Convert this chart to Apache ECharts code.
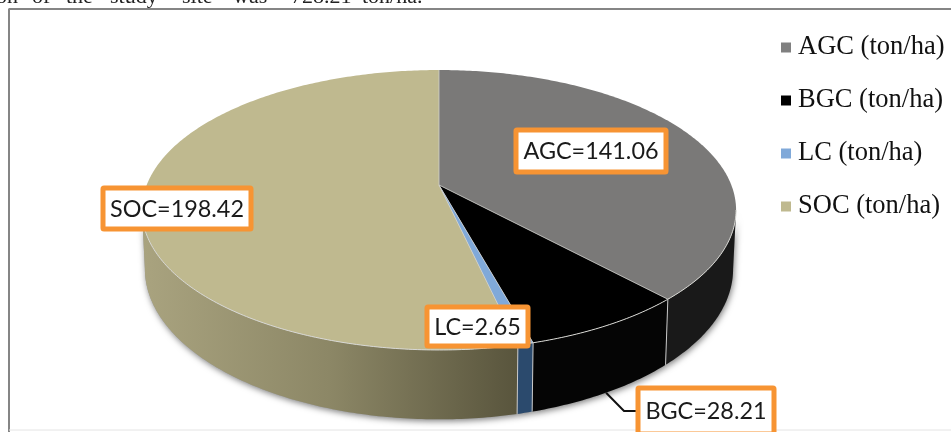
<!DOCTYPE html>
<html>
<head>
<meta charset="utf-8">
<style>html,body{margin:0;padding:0;background:#fff}#chart{width:951px;height:432px}</style>
<script src="https://cdn.jsdelivr.net/npm/echarts@6/dist/echarts.min.js"></script>
</head>
<body>
<div id="chart"></div>
<script>
// Carbon pools at the study site (ton/ha)
const poolNames = ['AGC', 'BGC', 'LC', 'SOC'];
const poolValues = [141.06, 28.21, 2.65, 198.42];
const legendUnit = ' (ton/ha)';
const topColors = ['#7a7978', '#000000', '#80a9d9', '#bfb98f'];
const legendColors = ['#808080', '#000000', '#80a9d9', '#bfb98f'];

// Callout boxes: left, top, width, height
const calloutBoxes = [[516, 130, 150, 42], [638, 388, 136, 46], [427, 307, 101, 39], [103, 188, 148, 41]];

// Running-head words above the frame
const headWords = ['on', 'of', 'the', 'study', 'site', 'was', '728.21', 'ton/ha.'];
const headX = [-4, 32, 66, 110, 182, 233, 291, 362];

// Tilted-disc projection of the pie
const disc = { cx: 439, cy: 185, a: 292.3, b: 135.5, k: 0.1786, depth: 57 };
const total = poolValues.reduce((s, v) => s + v, 0);
// The outer wall is visible between the two silhouette tangents of the disc
const FRONT_START = Math.acos(-disc.k);
const FRONT_END = Math.PI * 2 - FRONT_START;

function project(angle, lowered) {
  const u = Math.sin(angle), v = -Math.cos(angle);
  const w = 1 - disc.k * v;
  const shrink = lowered ? 0.99 : 1;
  return [
    disc.cx + disc.a * u / w * shrink,
    disc.cy + (disc.b * v + (lowered ? disc.depth : 0)) / w
  ];
}

function arc(a0, a1, lowered) {
  const pts = [];
  const n = Math.max(2, Math.ceil((a1 - a0) * 80));
  for (let i = 0; i <= n; i++) pts.push(project(a0 + (a1 - a0) * i / n, lowered));
  return pts;
}

const wallFills = [
  '#191919',
  '#050505',
  '#2b4a6d',
  {
    type: 'linear', x: 143, y: 0, x2: 516, y2: 0, global: true,
    colorStops: [
      { offset: 0, color: '#a9a37f' },
      { offset: 0.5, color: '#8c8766' },
      { offset: 1, color: '#59553d' }
    ]
  }
];

function renderSlice(index, params, api) {
  const before = poolValues.slice(0, index).reduce((s, v) => s + v, 0);
  const a0 = before / total * Math.PI * 2;
  const a1 = a0 + api.value(0) / total * Math.PI * 2;
  const f0 = Math.max(a0, FRONT_START);
  const f1 = Math.min(a1, FRONT_END);
  const rim = arc(f0, f1, false);
  const foot = arc(f0, f1, true);
  const wall = rim.concat(foot.slice().reverse());
  const [bx, by, bw, bh] = calloutBoxes[index];
  const apex = [disc.cx, disc.cy];
  const children = [
    {
      type: 'polygon', z2: 1,
      shape: { points: wall },
      style: { fill: '#9a9a9a', shadowBlur: 6, shadowColor: 'rgba(0,0,0,0.5)', shadowOffsetX: 1, shadowOffsetY: 2 }
    },
    { type: 'polygon', z2: 2, shape: { points: wall }, style: { fill: wallFills[index] } },
    {
      type: 'polygon', z2: 4,
      shape: { points: [apex].concat(arc(a0, a1, false)) },
      style: { fill: topColors[index] }
    },
    {
      type: 'polyline', z2: 5,
      shape: { points: rim },
      style: { stroke: '#d8d8d4', lineWidth: 1, fill: 'none' }
    },
    {
      type: 'polyline', z2: 5,
      shape: { points: [apex, project(a1, false)] },
      style: { stroke: '#cfcfcb', lineWidth: 0.8, fill: 'none' }
    },
    {
      type: 'rect', z2: 10,
      shape: { x: bx, y: by, width: bw, height: bh, r: 1 },
      style: { fill: '#ffffff', stroke: '#f79433', lineWidth: 5 }
    },
    {
      type: 'text', z2: 11,
      style: {
        x: bx + bw / 2, y: by + bh / 2 + 0.5,
        text: poolNames[index] + '=' + api.value(0).toFixed(2),
        align: 'center', verticalAlign: 'middle',
        font: '23.4px Lato', fill: '#1a1a1a'
      }
    }
  ];
  // Seams between neighbouring wall segments on the visible front
  if (a1 > FRONT_START && a1 < FRONT_END) {
    children.push({
      type: 'polyline', z2: 3,
      shape: { points: [project(a1, false), project(a1, true)] },
      style: { stroke: '#c9c9c9', lineWidth: 1, fill: 'none' }
    });
  }
  // Leader from the BGC callout to its wall segment
  if (poolNames[index] === 'BGC') {
    const anchor = project((a0 + a1) / 2, true);
    children.push({
      type: 'polyline', z2: 9,
      shape: { points: [[bx, by + bh / 2], [bx - 14, by + bh / 2], anchor] },
      style: { stroke: '#111', lineWidth: 2, fill: 'none' }
    });
  }
  return { type: 'group', children };
}

const headText = headWords.map((word, i) => ({
  type: 'text', left: headX[i], top: -14, z: 5,
  style: { text: word, font: '22px "Liberation Serif"', fill: '#222' }
}));

const frame = [
  { type: 'line', z: 1, shape: { x1: 8.5, y1: 9, x2: 951, y2: 9 }, style: { stroke: '#858585', lineWidth: 2 } },
  { type: 'line', z: 1, shape: { x1: 9, y1: 9, x2: 9, y2: 432 }, style: { stroke: '#858585', lineWidth: 2 } },
  { type: 'line', z: 1, shape: { x1: 9, y1: 430, x2: 951, y2: 430 }, style: { stroke: '#e4e4e4', lineWidth: 1 } }
];

const chart = echarts.init(document.getElementById('chart'), null, { renderer: 'canvas' });
chart.setOption({
  animation: false,
  backgroundColor: '#ffffff',
  legend: {
    orient: 'vertical',
    left: 776,
    top: 29,
    icon: 'rect',
    itemWidth: 10,
    itemHeight: 10,
    itemGap: 26,
    selectedMode: false,
    textStyle: { fontFamily: 'Liberation Serif', fontSize: 26.5, color: '#111', padding: [0, 0, 0, 2] },
    data: poolNames.map(n => n + legendUnit)
  },
  graphic: frame.concat(headText),
  series: poolNames.map((name, i) => ({
    type: 'custom',
    name: name + legendUnit,
    coordinateSystem: 'none',
    silent: true,
    itemStyle: { color: legendColors[i] },
    data: [[poolValues[i]]],
    renderItem: (params, api) => renderSlice(i, params, api)
  }))
});
</script>
</body>
</html>
